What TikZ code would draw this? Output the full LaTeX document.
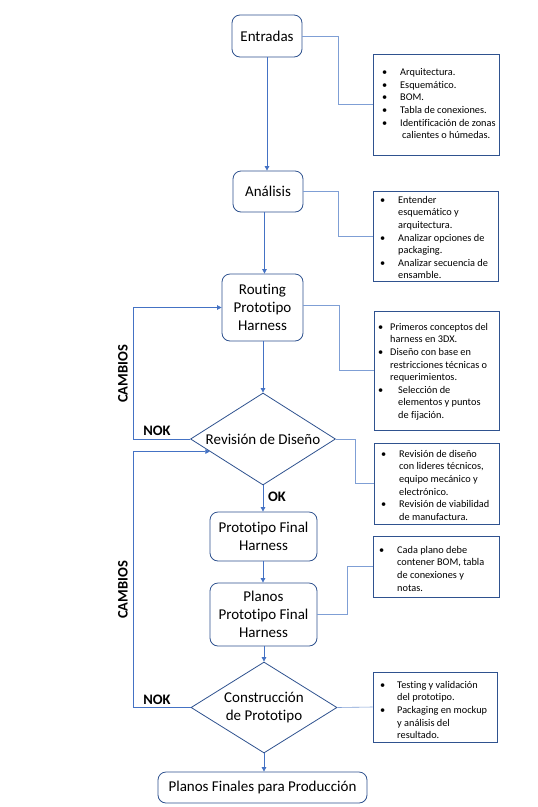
\documentclass[tikz,border=0pt]{standalone}
\usepackage{fontspec}
\setmainfont{Carlito}[Ligatures={NoCommon}]
\usetikzlibrary{arrows.meta,shapes.geometric,calc}
\definecolor{boxborder}{HTML}{2F528F}
\definecolor{flow}{HTML}{4472C4}
\definecolor{thin}{HTML}{7F9FD5}
\tikzset{
  procbox/.style={draw=boxborder, line width=0.8pt, rounded corners=8pt, align=center,
    font=\fontsize{15}{18.3}\selectfont, inner sep=0pt},
  decbox/.style={draw=boxborder, line width=0.8pt, shape=diamond, shape aspect=1.576,
    align=center, font=\fontsize{15}{18.3}\selectfont, inner sep=0pt,
    minimum width=145pt, minimum height=92pt},
  notebox/.style={draw=boxborder, line width=0.8pt, inner sep=0pt},
  notetext/.style={anchor=north west, align=left, inner sep=0pt,
    font=\fontsize{10.3}{12.6}\selectfont},
  flowarrow/.style={draw=flow, line width=0.8pt, -{Triangle[width=4.5pt,length=4.5pt]}},
  linkline/.style={draw=thin, line width=0.6pt},
  tag/.style={font=\fontsize{14.5}{17}\selectfont\bfseries, inner sep=0pt}
}
\newcommand{\bul}[1]{\makebox[#1][l]{\textbullet}}
\begin{document}
\begin{tikzpicture}[x=1pt,y=-1pt]
\useasboundingbox[fill=white] (0,0) rectangle (538,807);

% main process nodes
\node[procbox, minimum width=70pt, minimum height=42pt] (ent) at (267,36) {Entradas};
\node[procbox, minimum width=70pt, minimum height=41pt] (ana) at (268,191.5) {Análisis};
\node[procbox, minimum width=81pt, minimum height=67pt] (rout) at (262.5,307.5) {Routing\\Prototipo\\Harness};
\node[decbox] (rev) at (263,439) {Revisión de Diseño};
\node[procbox, minimum width=107pt, minimum height=49pt] (pfin) at (263.5,536.5) {Prototipo Final\\Harness};
\node[procbox, minimum width=107pt, minimum height=63pt] (plan) at (263.5,614.5) {Planos\\Prototipo Final\\Harness};
\node[decbox, minimum width=146pt, minimum height=91pt] (cons) at (264,707.5) {Construcción\\de Prototipo};
\node[procbox, minimum width=209pt, minimum height=31pt] (final) at (262.5,787.5) {Planos Finales para Producción};

% note boxes
\node[notebox, minimum width=126pt, minimum height=101pt] (c1) at (436,104.5) {};
\node[notebox, minimum width=125pt, minimum height=90pt] (c2) at (435.5,236) {};
\node[notebox, minimum width=125pt, minimum height=119pt] (c3) at (436.5,370.5) {};
\node[notebox, minimum width=125pt, minimum height=81pt] (c4) at (436.5,483.5) {};
\node[notebox, minimum width=126pt, minimum height=61pt] (c5) at (436,566.5) {};
\node[notebox, minimum width=124pt, minimum height=70pt] (c6) at (435,707) {};

% note texts
\node[notetext] (t1) at (382,68.5) {\bul{18pt}Arquitectura.\\\bul{18pt}Esquemático.\\\bul{18pt}BOM.\\\bul{18pt}Tabla de conexiones.\\\bul{18pt}Identificación de zonas\\\hspace*{20pt}calientes o húmedas.};
\node[notetext] (t2) at (380,196) {\bul{18pt}Entender\\\hspace*{18pt}esquemático y\\\hspace*{18pt}arquitectura.\\\bul{18pt}Analizar opciones de\\\hspace*{18pt}packaging.\\\bul{18pt}Analizar secuencia de\\\hspace*{18pt}ensamble.};
\node[notetext] (t3) at (378,323) {\bul{12pt}Primeros conceptos del\\\hspace*{12pt}harness en 3DX.\\\bul{12pt}Diseño con base en\\\hspace*{12pt}restricciones técnicas o\\\hspace*{12pt}requerimientos.\\\bul{20pt}Selección de\\\hspace*{20pt}elementos y puntos\\\hspace*{20pt}de fijación.};
\node[notetext] (t4) at (381,450) {\bul{18pt}Revisión de diseño\\\hspace*{18pt}con lideres técnicos,\\\hspace*{18pt}equipo mecánico y\\\hspace*{18pt}electrónico.\\\bul{18pt}Revisión de viabilidad\\\hspace*{18pt}de manufactura.};
\node[notetext] (t5) at (379,546) {\bul{18pt}Cada plano debe\\\hspace*{18pt}contener BOM, tabla\\\hspace*{18pt}de conexiones y\\\hspace*{18pt}notas.};
\node[notetext] (t6) at (380,681) {\bul{17pt}Testing y validación\\\hspace*{17pt}del prototipo.\\\bul{17pt}Packaging en mockup\\\hspace*{17pt}y análisis del\\\hspace*{17pt}resultado.};

% main flow arrows
\coordinate (ax) at (264.5,0);
\draw[flowarrow] (ent.south) -- (ent.south |- ana.north);
\draw[flowarrow] (ana.south -| ax) -- (ax |- rout.north);
\draw[flowarrow] (rout.south -| rev.north) -- (rev.north);
\draw[flowarrow] (rev.south) -- (rev.south |- pfin.north);
\draw[flowarrow] (pfin.south -| rev.south) -- (rev.south |- plan.north);
\draw[flowarrow] (plan.south -| cons.north) -- (cons.north);
\draw[flowarrow] (cons.south) -- (cons.south |- final.north);

% feedback loops
\coordinate (lx) at (133,0);
\coordinate (revin) at ($(rev.west)!0.27!(rev.south)$);
\draw[flowarrow] (rev.west) -- (rev.west -| lx) |- (rout.west);
\draw[flowarrow] (cons.west) -- (cons.west -| lx) |- (revin);

% links to notes
\draw[linkline] (ent.east) -- ++(36,0) |- (c1.west);
\draw[linkline] (ana.east) -- ++(35,0) |- (c2.west);
\draw[linkline] ([yshift=2.5pt]rout.east) -- ++(36,0) |- (c3.west);
\draw[linkline] (rev.east) -- ++(19,0) |- (c4.west);
\draw[linkline] (plan.east) -- ++(30,0) |- (c5.west);
\draw[linkline] (cons.east) -- (c6.west);

% labels
\node[tag] (nok1) at (157,431) {NOK};
\node[tag] (nok2) at (157,700) {NOK};
\node[tag] (ok) at (277,497) {OK};
\node[tag, rotate=90] (cam1) at (123,374) {CAMBIOS};
\node[tag, rotate=90] (cam2) at (123,590) {CAMBIOS};
\end{tikzpicture}
\end{document}
